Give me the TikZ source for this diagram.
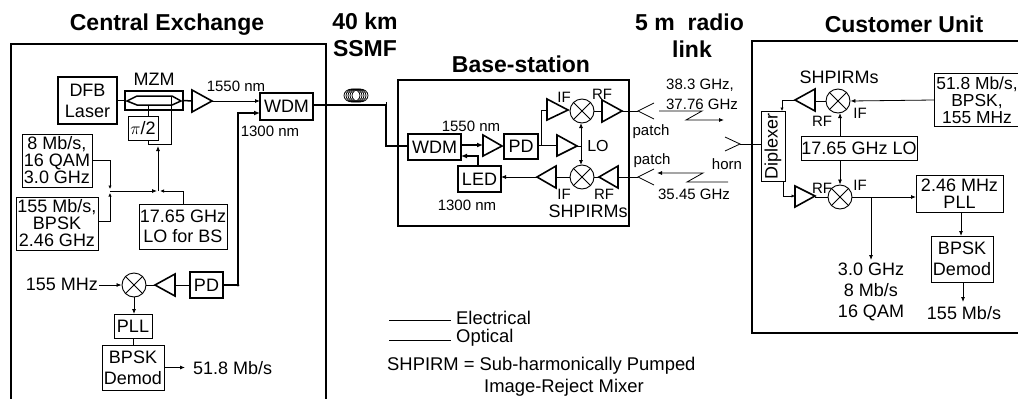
\documentclass[tikz,border=0pt]{standalone}
\usepackage{fontspec}
\setmainfont{Liberation Sans}
\usetikzlibrary{arrows.meta}
\tikzset{
 x=1pt,y=-1pt,
 box/.style={draw,line width=0.9pt,inner sep=0pt,align=center,font=\fontsize{18}{17}\selectfont,anchor=center},
 tbox/.style={box,line width=1.5pt},
 lab/.style={inner sep=0pt,align=center,font=\fontsize{18}{17}\selectfont},
 slab/.style={inner sep=0pt,align=center,font=\fontsize{15}{17}\selectfont},
 ttl/.style={inner sep=0pt,align=center,font=\bfseries\fontsize{23}{27}\selectfont},
 el/.style={line width=0.8pt},
 ar/.style={el,-{Latex[length=5pt,width=4pt]}},
 op/.style={line width=1.5pt},
 opar/.style={op,-{Latex[length=6pt,width=5pt]}},
 wall/.style={line width=1.3pt},
 amp/.style={line width=1.6pt,line join=miter},
 mix/.style={circle,draw,line width=0.9pt,minimum size=24pt,inner sep=0pt},
}
\newcommand{\mixx}[2]{\draw[el] (#1.north west)--(#1.south east) (#1.north east)--(#1.south west);}
\begin{document}
\begin{tikzpicture}
\useasboundingbox (0,0) rectangle (1018,399);
% titles
\node[ttl] (t1) at (167,25) {Central Exchange};
\node[ttl] (t2) at (365,35) {40 km\\SSMF};
\node[ttl] (t3) at (521,64) {Base-station};
\node[ttl,anchor=west] (t4a) at (635,22) {5 m\ \ radio};
\node[ttl,anchor=west] (t4b) at (672,49) {link};
\node[ttl] (t5) at (904,24) {Customer Unit};
% enclosures
\draw[wall] (11,399)--(11,44)--(326,44)--(326,399);
\draw[wall] (398,80) rectangle (629,226);
\draw[wall] (1018,41)--(752,41)--(752,333)--(1018,333);
% Central exchange
\node[tbox,minimum width=59pt,minimum height=47pt] (dfb) at (87.5,100.5) {DFB\\[4pt]Laser};
\node[lab] (mzmt) at (154,79) {MZM};
\node[box,line width=1.1pt,minimum width=58pt,minimum height=19pt] (mzm) at (154,100.5) {};
\draw[op] (127,101)--(137,96)--(172,96)--(181,101)--(172,105)--(137,105)--cycle;
\draw[el] (dfb.east)--(mzm.west);
\draw[amp] (192,90)--(192,112)--(212,101)--cycle;
\coordinate (ampA) at (192,101);
\coordinate (ampB) at (212,101);
\draw[op] (mzm.east)--(ampA);
\node[tbox,line width=1.2pt,minimum width=53pt,minimum height=27pt] (wdm1) at (286.5,106.5) {WDM};
\draw[ar] (ampB)--(260,101);
\node[slab] (l1550a) at (236,86) {1550 nm};
\node[slab] (l1300a) at (270,131) {1300 nm};
\node[box,minimum width=30pt,minimum height=24pt] (pi) at (143,128) {$\pi$/2};
\draw[el] (148,105)--(148,116);
\coordinate (j1) at (148,144);
\coordinate (j2) at (171,144);
\draw[el] (148,140)--(j1)--(j2)--(171,96);
\node[box,minimum width=70pt,minimum height=53pt] (q8) at (57,160.5) {8 Mb/s,\\16 QAM\\3.0 GHz};
\node[box,minimum width=82pt,minimum height=53pt] (q155) at (57,223.5) {155 Mb/s,\\BPSK\\2.46 GHz};
\node[box,minimum width=88pt,minimum height=45pt] (lo) at (183,226.5) {17.65 GHz\\[3pt]LO for BS};
\coordinate (c1) at (110,191);
\coordinate (c2) at (158,191);
\draw[el,-{Latex[length=3.5pt,width=3.5pt]}] (92,160)--(110,160)--(110,189);
\draw[el,-{Latex[length=3.5pt,width=3.5pt]}] (98,221)--(110,221)--(110,193);
\draw[ar] (c1)--(157,191);
\draw[el,-{Latex[length=4pt,width=3.5pt]}] (lo.north)--(183,191)--(160,191);
\draw[ar] (c2)--(158,146);
% receive chain
\node[tbox,minimum width=33pt,minimum height=26pt] (pd1) at (206.5,285) {PD};
\node[mix] (m1) at (134,285) {}; \mixx{m1}{}
\draw[amp] (175,274)--(175,296)--(155,285)--cycle;
\draw[el] (pd1.west)--(175,285);
\draw[el] (155,285)--(m1.east);
\draw[op] (pd1.east)--(238,285);
\draw[opar] (238,286)--(238,113)--(260,113);
\fill (238,285) circle (1.5pt);
\node[lab,anchor=east] (m155) at (98,284) {155 MHz};
\draw[ar] (99,285)--(m1.west);
\node[box,minimum width=38pt,minimum height=24pt] (pll1) at (133,326) {PLL};
\draw[ar] (m1.south)--(134,314);
\node[box,minimum width=62pt,minimum height=45pt] (dem1) at (133,367.5) {BPSK\\[4pt]Demod};
\draw[el] (pll1.south)--(dem1.north);
\node[lab,anchor=west] (o518) at (193,368) {51.8 Mb/s};
\draw[ar] (dem1.east)--(185,367.5);
% fibre
\coordinate (coil) at (356,95.5);
\foreach \d in {-4,-2,0,2,4}{\draw[line width=0.8pt] ([xshift=\d pt]coil) ellipse (8pt and 6.5pt);}
\node[tbox,line width=1.4pt,minimum width=53pt,minimum height=26pt] (wdm2) at (434.5,147) {WDM};
\draw[op] (313,105)--(386,105)--(386,146)--(408,146);
\draw[el] (386,102)--(386,105);
% base station
\node[slab] (l1550b) at (471,126) {1550 nm};
\node[slab] (l1300b) at (467,205) {1300 nm};
\draw[amp] (483,135)--(483,156)--(502,146)--cycle;
\draw[opar] (461,145)--(483,145);
\node[tbox,line width=1.2pt,minimum width=34pt,minimum height=25pt] (pd2) at (521,146.5) {PD};
\node[tbox,minimum width=43pt,minimum height=26pt] (led) at (479.5,179) {LED};
\draw[opar] (478,166)--(478,156)--(461,156);
\draw[amp] (557,135)--(557,156)--(577,146)--cycle;
\draw[el] (538,145)--(557,145);
\draw[el] (541,145)--(541,110)--(547,110);
\draw[amp] (547,99)--(547,120)--(568,110)--cycle;
\node[mix] (m2) at (582,111) {}; \mixx{m2}{}
\node[mix] (m3) at (582,177) {}; \mixx{m3}{}
\coordinate (lo2) at (581,146);
\draw[el] (577,146)--(lo2);
\draw[ar] (lo2)--(581,123);
\draw[ar] (lo2)--(581,165);
\node[lab,font=\fontsize{16}{17}\selectfont] (lol) at (598,146) {LO};
\draw[amp] (602,100)--(602,122)--(622,111)--cycle;
\draw[el] (m2.east)--(602,111);
\coordinate (apt) at (638,111);
\draw[el] (622,111)--(apt);
\draw[el] (654,103)--(apt)--(654,119);
\node[slab] (p1) at (651,132) {patch};
\node[slab] (p2) at (652,161) {patch};
\draw[amp] (618,166)--(618,188)--(599,177)--cycle;
\draw[el] (m3.east)--(599,177);
\coordinate (apb) at (638,177);
\draw[el] (618,177)--(apb);
\draw[el] (654,169)--(apb)--(654,185);
\draw[amp] (556,166)--(556,188)--(537,177)--cycle;
\draw[el] (m3.west)--(556,177);
\draw[ar] (537,177)--(501,177);
\node[slab] (if1) at (564,97) {IF};
\node[slab] (rf1) at (602,94) {RF};
\node[slab] (if2) at (564,194) {IF};
\node[slab] (rf2) at (604,194) {RF};
\node[lab] (sh1) at (588,211) {SHPIRMs};
% radio link
\node[slab] (r1) at (700,85) {38.3 GHz,};
\node[slab] (r2) at (702,104) {37.76 GHz};
\draw[ar] (659,111)--(702,111)--(686,120)--(724,120);
\coordinate (rs) at (728,182);
\draw[ar] (rs)--(687,182)--(703,173)--(657,173);
\node[slab] (r3) at (694,194) {35.45 GHz};
\node[slab] (horn) at (727,164) {horn};
% customer unit
\node[box,line width=1pt,minimum width=24pt,minimum height=70pt] (dip) at (773,146) {\rotatebox{90}{Diplexer}};
\coordinate (htip) at (740,144);
\draw[el] (725,137)--(htip)--(725,151);
\draw[el] (htip)--(761,144);
\node[mix] (m4) at (838,101) {}; \mixx{m4}{}
\node[mix] (m5) at (840,197) {}; \mixx{m5}{}
\draw[amp] (815,89)--(815,111)--(795,100)--cycle;
\draw[el] (m4.west)--(815,101);
\draw[el,-{Latex[length=3.5pt,width=3.5pt]}] (795,100)--(782,100)--(782,111);
\node[lab] (sh2) at (839,77) {SHPIRMs};
\node[slab] (rf3) at (822,121) {RF};
\node[slab] (if3) at (860,113) {IF};
\draw[el,line width=0.9pt] (1018,73.5)--(934,73.5)--(934,126.5)--(1018,126.5);
\node[lab,font=\fontsize{17.4}{17}\selectfont] (b518) at (977,100) {51.8 Mb/s,\\BPSK,\\155 MHz};
\coordinate (b518w) at (934,100);
\draw[ar] (b518w)--(m4.east);
\node[box,minimum width=116pt,minimum height=24pt] (lo3) at (859,148) {17.65 GHz LO};
\draw[ar] (840,136)--(840,113);
\draw[ar] (840,160)--(m5.north);
\draw[amp] (795,186)--(795,207)--(815,196)--cycle;
\draw[el,-{Latex[length=3.5pt,width=3.5pt]}] (783,181)--(783,196)--(795,196);
\draw[el] (815,197)--(m5.west);
\node[slab] (rf4) at (822,188) {RF};
\node[slab] (if4) at (860,185) {IF};
\node[box,minimum width=87pt,minimum height=37pt] (pll2) at (959.5,193.5) {2.46 MHz\\PLL};
\draw[ar] (m5.east)--(916,197);
\coordinate (q3) at (871,197);
\node[lab] (o3) at (871,292) {3.0 GHz\\[4pt]8 Mb/s\\[4pt]16 QAM};
\draw[ar] (q3)--(871,260);
\node[box,minimum width=62pt,minimum height=46pt] (dem2) at (962,259) {BPSK\\[4pt]Demod};
\draw[ar] (961,212)--(961,236);
\node[lab] (o155) at (964,313) {155 Mb/s};
\draw[ar] (963,282)--(963,302);
% legend
\draw[el] (389,320)--(451,320);
\node[lab,anchor=west,font=\fontsize{18.4}{17}\selectfont] (le) at (456,318) {Electrical};
\draw[el,line width=1pt] (389,340)--(451,340);
\node[lab,anchor=west,font=\fontsize{18.4}{17}\selectfont] (lo4) at (456,338) {Optical};
\node[lab,anchor=west,font=\fontsize{18.4}{17}\selectfont] (s1) at (387,366) {SHPIRM = Sub-harmonically Pumped};
\node[lab,anchor=west,font=\fontsize{18.4}{17}\selectfont] (s2) at (484,388) {Image-Reject Mixer};
\end{tikzpicture}
\end{document}
